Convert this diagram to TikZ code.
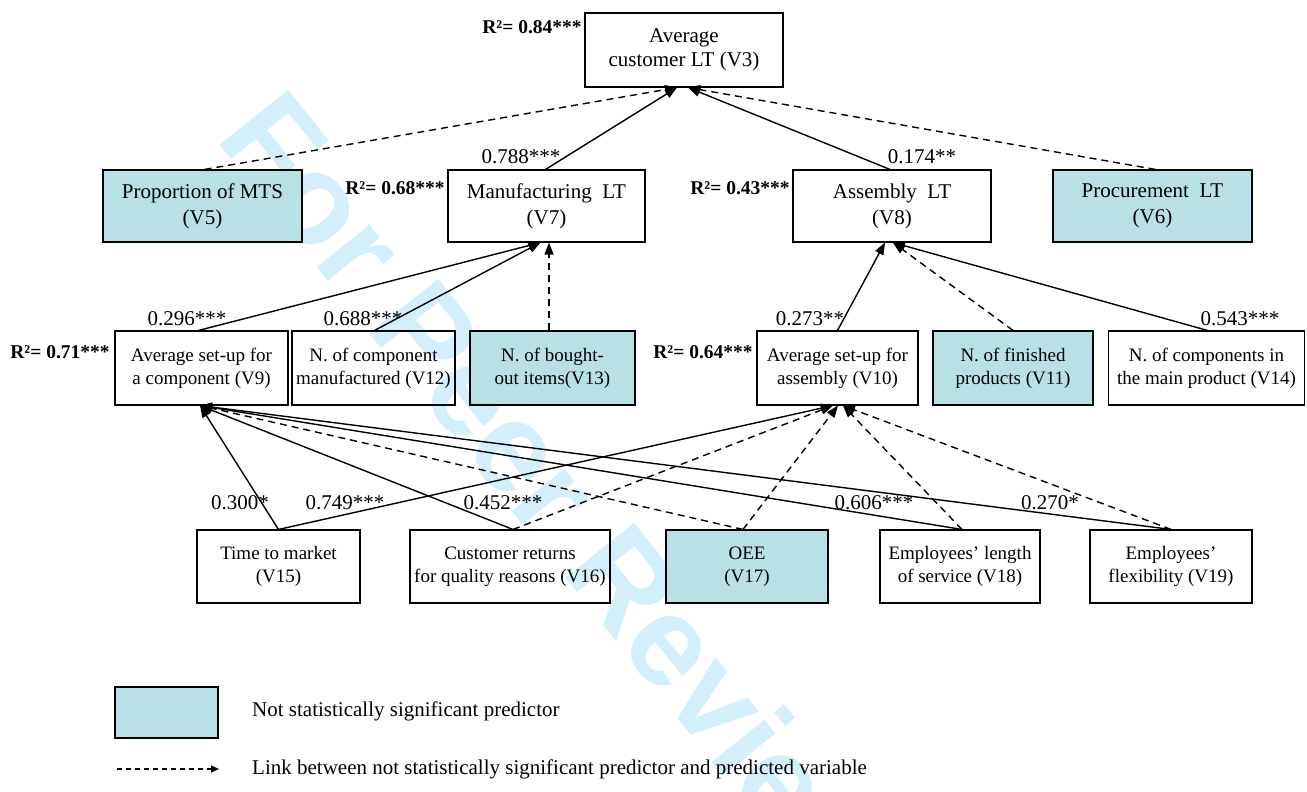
\documentclass[tikz,border=0pt]{standalone}
\usepackage{fontspec}
\setmainfont{Liberation Serif}
\newfontfamily\wmfont{Liberation Sans}
\usetikzlibrary{arrows.meta}
\definecolor{tealfill}{RGB}{185,224,228}
\definecolor{wmblue}{RGB}{212,239,252}
\begin{document}
\begin{tikzpicture}[x=1pt,y=-1pt,
  box/.style={draw, line width=1.1pt, align=center, font=\fontsize{19}{23}\selectfont, inner sep=0pt, minimum height=73pt},
  bigbox/.style={box, font=\fontsize{21}{26}\selectfont},
  ns/.style={box, fill=tealfill},
  bigns/.style={bigbox, fill=tealfill},
  sol/.style={line width=1.4pt, -{Triangle[length=12pt,width=9pt]}},
  dsh/.style={sol, dash pattern=on 7pt off 5pt},
  coef/.style={font=\fontsize{21}{24}\selectfont, inner sep=0pt},
  rsq/.style={font=\fontsize{19.5}{22}\selectfont\bfseries, inner sep=0pt}]
\useasboundingbox (0,0) rectangle (1307,792);
\fill[white] (0,0) rectangle (1307,792);
% watermark
\node[anchor=base west, rotate=-51.4, text=wmblue, font=\wmfont\bfseries\fontsize{128}{128}\selectfont, inner sep=0pt] (wm) at (214,138) {For Peer Review};

% top
\node[bigbox, font=\fontsize{21}{24}\selectfont, minimum width=198pt, minimum height=74pt] (V3) at (684,50) {Average\\customer LT (V3)};
\node[bigns, minimum width=199pt, minimum height=72pt] (V5) at (202.5,206) {Proportion of MTS\\(V5)};
\node[bigbox, minimum width=197pt, minimum height=72pt] (V7) at (546.5,206) {Manufacturing\ \ LT\\(V7)};
\node[bigbox, minimum width=198pt, minimum height=72pt] (V8) at (892,206) {Assembly\ \ LT\\(V8)};
\node[bigns, minimum width=199pt, minimum height=72pt] (V6) at (1152.5,206) {Procurement\ \ LT\\(V6)};
% middle
\node[box, minimum width=173pt, minimum height=74pt] (V9) at (201.5,368) {Average set-up for\\a component (V9)};
\node[box, minimum width=163pt, minimum height=74pt] (V12) at (373.5,368) {N. of component\\manufactured (V12)};
\node[ns, minimum width=165pt, minimum height=74pt] (V13) at (552.5,368) {N. of bought-\\out items(V13)};
\node[box, minimum width=161pt, minimum height=74pt] (V10) at (837.5,368) {Average set-up for\\assembly (V10)};
\node[ns, minimum width=160pt, minimum height=74pt] (V11) at (1013,368) {N. of finished\\products (V11)};
\node[box, minimum width=196pt, minimum height=74pt] (V14) at (1206.5,368) {N. of components in\\the main product (V14)};
% bottom
\node[box, minimum width=163pt] (V15) at (278.5,566.5) {Time to market\\(V15)};
\node[box, minimum width=200pt] (V16) at (510,566.5) {Customer returns\\for quality reasons (V16)};
\node[ns, minimum width=162pt] (V17) at (747,566.5) {OEE\\(V17)};
\node[box, minimum width=160pt] (V18) at (960,566.5) {Employees’ length\\of service (V18)};
\node[box, minimum width=162pt] (V19) at (1171,566.5) {Employees’\\flexibility (V19)};

% R2 labels
\node[rsq] (r84) at (532,27) {R²= 0.84***};
\node[rsq] (r68) at (395,188) {R²= 0.68***};
\node[rsq] (r43) at (740,188) {R²= 0.43***};
\node[rsq] (r71) at (60,352) {R²= 0.71***};
\node[rsq] (r64) at (703,352) {R²= 0.64***};

% connectors to V3
\draw[dsh] ([xshift=2pt]V5.north) -- ([xshift=-7pt]V3.south);
\draw[sol] ([xshift=-1pt]V7.north) -- ([xshift=-7pt]V3.south);
\draw[sol] ([xshift=-2pt]V8.north) -- ([xshift=4pt]V3.south);
\draw[dsh] ([xshift=3pt]V6.north) -- ([xshift=4pt]V3.south);
% to V7
\draw[sol] ([xshift=-3pt]V9.north) -- ([xshift=-6pt]V7.south);
\draw[sol] ([xshift=1pt]V12.north) -- ([xshift=-6pt]V7.south);
\draw[dsh] ([xshift=-3.5pt]V13.north) -- ([xshift=2.5pt]V7.south);
% to V8
\draw[sol] (V10.north) -- ([xshift=-7pt]V8.south);
\draw[dsh] (V11.north) -- ([xshift=1pt]V8.south);
\draw[sol] ([xshift=1pt]V14.north) -- ([xshift=1pt]V8.south);
% to V9
\draw[sol] (V15.north) -- ([xshift=-1.5pt]V9.south);
\draw[sol] ([xshift=3pt]V16.north) -- ([xshift=-1.5pt]V9.south);
\draw[dsh] ([xshift=-4pt]V17.north) -- ([xshift=-1.5pt]V9.south);
\draw[sol] ([xshift=2pt]V18.north) -- ([xshift=-1.5pt]V9.south);
\draw[sol] (V19.north) -- ([xshift=-1.5pt]V9.south);
% to V10
\draw[sol] (V15.north) -- ([xshift=-4.5pt]V10.south);
\draw[dsh] ([xshift=3pt]V16.north) -- ([xshift=-4.5pt]V10.south);
\draw[dsh] ([xshift=-4pt]V17.north) -- ([xshift=0.5pt]V10.south);
\draw[dsh] ([xshift=2pt]V18.north) -- ([xshift=5.5pt]V10.south);
\draw[dsh] (V19.north) -- ([xshift=5.5pt]V10.south);

% coefficient labels
\node[coef] (c788) at (521,157) {0.788***};
\node[coef] (c174) at (922,157) {0.174**};
\node[coef] (c296) at (187,319) {0.296***};
\node[coef] (c688) at (363,319) {0.688***};
\node[coef] (c273) at (810,319) {0.273**};
\node[coef] (c543) at (1240,319) {0.543***};
\node[coef] (c300) at (240,503) {0.300*};
\node[coef] (c749) at (345,503) {0.749***};
\node[coef] (c452) at (503,503) {0.452***};
\node[coef] (c606) at (874,503) {0.606***};
\node[coef] (c270) at (1050,503) {0.270*};

% legend
\node[ns, minimum width=103pt, minimum height=51pt] (leg1) at (166.5,712.5) {};
\node[coef, anchor=west] (legt1) at (252,711) {Not statistically significant predictor};
\coordinate (lega) at (117,769);
\coordinate (legb) at (219,769);
\draw[line width=1.2pt, dash pattern=on 5pt off 4pt, -{Triangle[length=8pt,width=7pt]}] (lega) -- (legb);
\node[coef, anchor=west] (legt2) at (252,769) {Link between not statistically significant predictor and predicted variable};
\end{tikzpicture}
\end{document}
